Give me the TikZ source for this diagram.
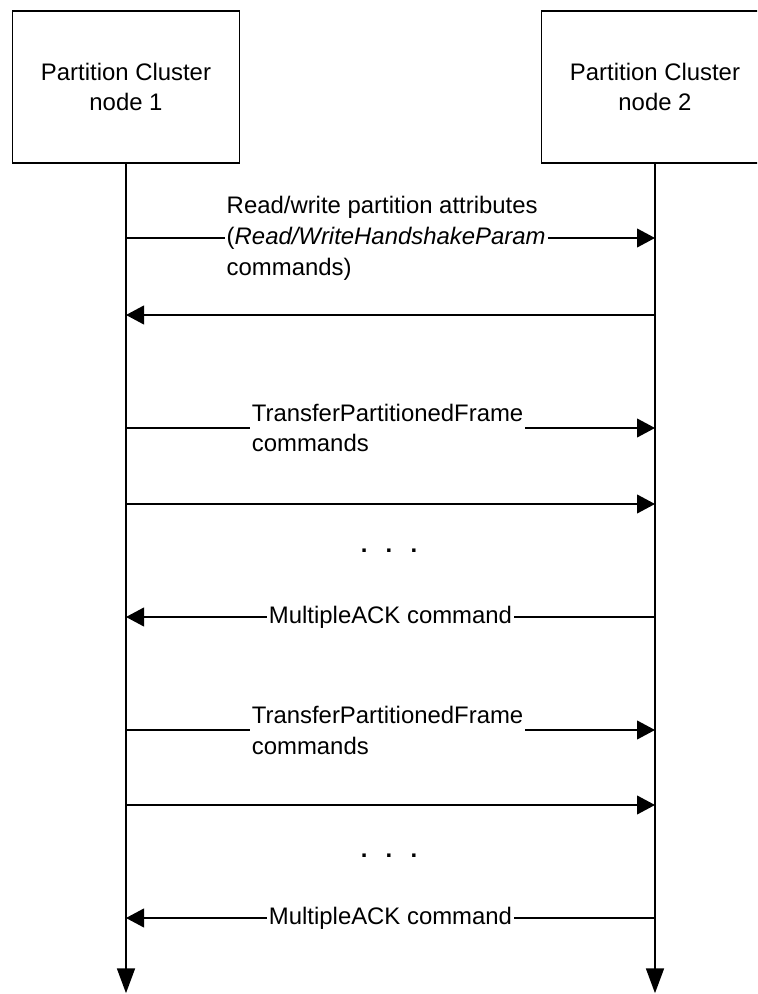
\documentclass[tikz,border=0pt]{standalone}
\usepackage{fontspec}
\setmainfont{Liberation Sans}
\usetikzlibrary{arrows.meta}

\tikzset{
  box/.style={draw, line width=1.2pt, minimum width=5.675cm, minimum height=3.8cm, align=center, font=\fontsize{17}{22}\selectfont},
  lifeline/.style={line width=1.1pt, -{Triangle[length=0.62cm,width=0.45cm]}},
  msg/.style={line width=1.1pt, -{Triangle[length=0.45cm,width=0.47cm]}},
  lbl/.style={fill=white, inner sep=1.5pt, align=left, font=\fontsize{17}{22}\selectfont},
  dots/.style={inner sep=0pt, font=\fontsize{17}{22}\selectfont\bfseries},
}

\begin{document}
\begin{tikzpicture}
\clip (0,0) rectangle (18.925,24.85);

% the two cluster nodes
\node[box] (node1) at (3.15,22.675) {Partition Cluster\\node 1};
\node[box] (node2) at (16.375,22.675) {Partition Cluster\\node 2};

% message rows
\coordinate (m1) at (0,18.9);
\coordinate (m2) at (0,16.975);
\coordinate (m3) at (0,14.15);
\coordinate (m4) at (0,12.25);
\coordinate (m5) at (0,9.425);
\coordinate (m6) at (0,6.6);
\coordinate (m7) at (0,4.725);
\coordinate (m8) at (0,1.9);
\coordinate (bottom) at (0,0.02);

% lifelines
\draw[lifeline] (node1.south) -- (node1 |- bottom);
\draw[lifeline] (node2.south) -- (node2 |- bottom);

% attribute exchange
\draw[msg] (node1 |- m1) -- node[lbl,pos=0.185,anchor=west] {Read/write partition attributes\\(\textit{Read/WriteHandshakeParam}\\commands)} (node2 |- m1);
\draw[msg] (node2 |- m2) -- (node1 |- m2);

% first batch of frames
\draw[msg] (node1 |- m3) -- node[lbl,pos=0.2325,anchor=west] {TransferPartitionedFrame\\commands} (node2 |- m3);
\draw[msg] (node1 |- m4) -- (node2 |- m4);
\node[dots] (dots1) at (9.725,11.075) {.\hspace{13pt}.\hspace{13pt}.};
\draw[msg] (node2 |- m5) -- node[lbl] {MultipleACK command} (node1 |- m5);

% second batch of frames
\draw[msg] (node1 |- m6) -- node[lbl,pos=0.2325,anchor=west] {TransferPartitionedFrame\\commands} (node2 |- m6);
\draw[msg] (node1 |- m7) -- (node2 |- m7);
\node[dots] (dots2) at (9.725,3.45) {.\hspace{13pt}.\hspace{13pt}.};
\draw[msg] (node2 |- m8) -- node[lbl] {MultipleACK command} (node1 |- m8);
\end{tikzpicture}
\end{document}
